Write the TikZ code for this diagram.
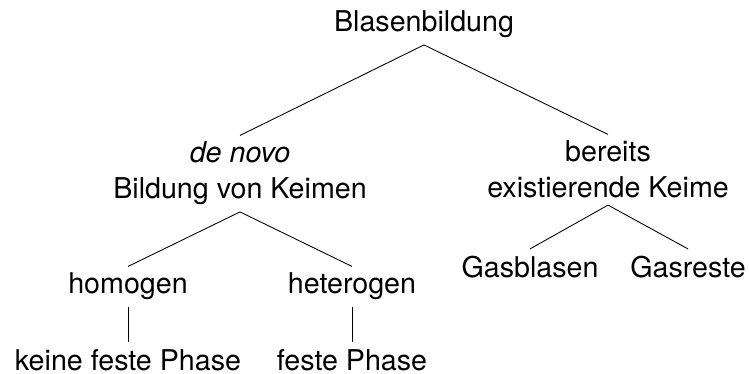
\documentclass[tikz,border=0pt]{standalone}
\usepackage{fontspec}
\setmainfont{TeX Gyre Heros}
\tikzset{
  concept/.style = {inner sep=3.6pt, anchor=base, align=center,
                    font=\fontsize{16.3}{20.5}\selectfont},
  branch/.style = {draw, line width=.5pt},
}

\begin{document}
\begin{tikzpicture}[x=0.02cm, y=-0.02cm]
\useasboundingbox (0,0) rectangle (749,374);
\node[concept] (root) at (424,32) {Blasenbildung};
% the base of a two-line node is the baseline of its last line
\node[concept] (novo) at (240,199) {\textit{de novo}\\Bildung von Keimen};
\node[concept] (exist) at (608,198) {bereits\\existierende Keime};
\node[concept] (homo) at (128,294) {homogen};
\node[concept] (hetero) at (352,294) {heterogen};
\node[concept] (blasen) at (530,277) {Gasblasen};
\node[concept] (reste) at (688,277) {Gasreste};
\node[concept] (keine) at (128,370) {keine feste Phase};
\node[concept] (feste) at (352,370) {feste Phase};
\path[branch] (root.south) edge (novo.north)
              (root.south) edge (exist.north);
\path[branch] (novo.south) edge (homo.north)
              (novo.south) edge (hetero.north);
\path[branch] (exist.south) edge (blasen.north)
              (exist.south) edge (reste.north);
\path[branch] (homo.south) edge (keine.north);
\path[branch] (hetero.south) edge (feste.north);
\end{tikzpicture}
\end{document}
